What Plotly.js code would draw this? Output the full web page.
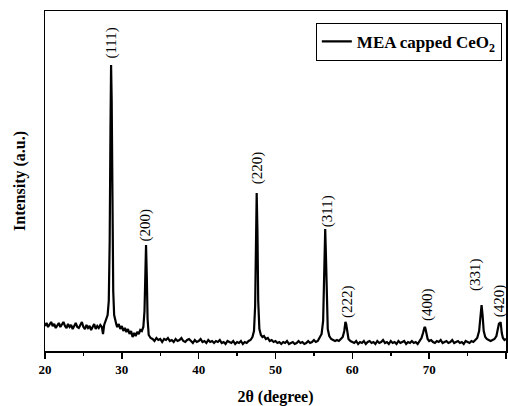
<!DOCTYPE html>
<html>
<head>
<meta charset="utf-8">
<script src="https://cdn.plot.ly/plotly-3.0.1.min.js"></script>
<style>html,body{margin:0;padding:0;background:#fff;}#chart{width:508px;height:406px;}</style>
</head>
<body>
<div id="chart"></div>
<script>
// 2theta (degree) positions of the digitised pattern
const twoTheta = [
  20.0,20.2,20.4,20.6,20.8,21.0,21.2,21.4,21.6,21.8,22.0,22.2,22.4,22.6,22.8,23.0,23.2,23.4,23.6,23.8,
  24.0,24.2,24.4,24.6,24.8,25.0,25.2,25.4,25.6,25.8,26.0,26.2,26.4,26.6,26.8,27.0,27.2,27.4,
  27.55,27.7,27.85,28.0,28.15,28.3,28.42,28.52,28.6,28.68,28.78,28.88,29.0,29.15,29.3,
  29.4,29.6,29.8,30.0,30.2,30.4,30.6,30.8,31.0,31.2,31.4,31.6,31.8,32.0,32.2,32.4,32.6,
  32.8,32.95,33.05,33.15,33.25,33.35,33.5,
  33.75,34.0,34.25,34.5,34.75,35.0,35.25,35.5,35.75,36.0,36.25,36.5,36.75,37.0,37.25,37.5,37.75,
  38.0,38.25,38.5,38.75,39.0,39.25,39.5,39.75,40.0,40.25,40.5,40.75,41.0,41.25,41.5,41.75,
  42.0,42.25,42.5,42.75,43.0,43.25,43.5,43.75,44.0,44.25,44.5,44.75,45.0,45.25,45.5,45.75,
  46.0,46.25,46.5,46.75,
  47.0,47.2,47.35,47.45,47.55,47.65,47.75,47.9,48.1,48.3,48.5,48.75,49.0,49.25,49.5,49.75,
  50.0,50.25,50.5,50.75,51.0,51.25,51.5,51.75,52.0,52.25,52.5,52.75,53.0,53.25,53.5,53.75,
  54.0,54.25,54.5,54.75,55.0,55.25,55.5,55.75,
  56.0,56.2,56.3,56.4,56.47,56.55,56.65,56.8,57.0,57.25,57.5,57.75,58.0,58.25,58.5,58.75,
  58.95,59.1,59.2,59.35,59.5,59.75,
  60.0,60.25,60.5,60.75,61.0,61.25,61.5,61.75,62.0,62.25,62.5,62.75,63.0,63.25,63.5,63.75,
  64.0,64.25,64.5,64.75,65.0,65.25,65.5,65.75,66.0,66.25,66.5,66.75,67.0,67.25,67.5,67.75,
  68.0,68.25,68.5,68.75,69.0,69.2,69.4,69.5,69.65,69.8,
  70.0,70.25,70.5,70.75,71.0,71.25,71.5,71.75,72.0,72.25,72.5,72.75,73.0,73.25,73.5,73.75,
  74.0,74.25,74.5,74.75,75.0,75.25,75.5,75.75,76.0,76.25,76.5,76.7,76.82,76.95,77.1,77.3,
  77.5,77.75,78.0,78.25,78.5,78.75,78.95,79.1,79.2,79.3,79.45,79.6,79.8,80.0
];
// intensity (a.u.)
const intensity = [
  25,28,24,27,29,25,27,23,26,28,24,26,29,25,23,27,24,26,22,25,
  28,24,23,26,29,24,22,26,23,25,21,24,27,22,25,23,26,24,
  17,26,29,31,36,50,110,220,286,250,140,60,36,29,26,
  24,27,22,25,20,23,19,22,17,20,14,18,15,19,17,21,20,
  24,40,85,106,75,32,16,
  13,12,10,13,11,12,9,12,11,13,10,11,9,12,10,11,13,
  10,9,11,12,10,8,11,9,10,12,9,10,8,11,9,10,
  8,10,9,11,8,9,7,10,9,8,10,7,9,8,10,7,
  9,8,10,11,
  14,20,45,120,158,120,50,22,16,14,15,12,13,10,11,9,
  10,8,9,7,9,8,10,7,8,9,7,8,10,8,9,7,
  8,10,8,9,11,9,10,13,
  17,30,60,112,122,100,50,22,15,12,11,10,11,10,12,14,
  20,29,27,16,12,10,
  9,8,10,7,9,8,10,7,9,10,8,9,7,10,8,9,
  11,8,9,7,10,8,9,7,10,8,9,10,7,9,8,10,
  8,9,7,10,13,18,24,23,16,12,
  10,11,9,8,10,9,11,8,9,10,8,9,11,8,9,10,
  8,9,7,10,9,8,10,9,11,13,20,38,46,36,20,14,
  12,11,10,11,12,15,24,28,27,29,18,13,11,12
];
// reflections (Miller indices), their 2theta and peak heights
const peakHkl = ['(111)','(200)','(220)','(311)','(222)','(400)','(331)','(420)'];
const peakTheta = [28.6, 33.15, 47.55, 56.47, 59.1, 69.4, 76.82, 79.2];
const peakTop = [286, 106, 158, 122, 29, 24, 46, 28];
const seriesName = 'MEA capped CeO<sub>2</sub>';
const xTitle = '2θ (degree)';
const yTitle = 'Intensity (a.u.)';

const serif = 'Liberation Serif, Times New Roman, serif';
// per-label pixel nudges [dx, dy]
const nudge = [[0,5],[-1,2],[1,8],[2,1],[2,3],[3,5],[-6,13],[0,5]];

const annotations = peakHkl.map((t, i) => ({
  text: t, x: peakTheta[i], y: peakTop[i], xref: 'x', yref: 'y',
  xshift: nudge[i][0], yshift: nudge[i][1],
  textangle: -90, xanchor: 'center', yanchor: 'bottom', showarrow: false,
  borderpad: 0,
  font: {family: serif, size: 15, color: '#000'}
}));

const data = [{
  x: twoTheta, y: intensity, type: 'scatter', mode: 'lines',
  name: seriesName, line: {color: '#000', width: 2.2},
  showlegend: true
}];

const layout = {
  width: 508, height: 406,
  margin: {l: 45, r: 2, t: 11, b: 55},
  paper_bgcolor: '#fff', plot_bgcolor: '#fff',
  font: {family: serif, color: '#000'},
  showlegend: true,
  legend: {
    x: 0.991, xanchor: 'right', y: 0.965, yanchor: 'top',
    bordercolor: '#000', borderwidth: 1, bgcolor: '#fff',
    font: {family: serif, size: 17, weight: 'bold', color: '#000'}
  },
  xaxis: {
    range: [20, 80], dtick: 10, tick0: 20,
    ticks: 'outside', ticklen: 6, tickwidth: 1.5, tickcolor: '#000',
    minor: {dtick: 5, ticks: 'outside', ticklen: 3, tickwidth: 1.5, tickcolor: '#000'},
    showline: true, linewidth: 1.5, linecolor: '#000', mirror: true,
    showgrid: false, zeroline: false,
    tickfont: {family: serif, size: 13, weight: 'bold', color: '#000'},
    title: {text: xTitle, standoff: 14, font: {family: serif, size: 16, weight: 'bold', color: '#000'}},
    automargin: false
  },
  yaxis: {
    range: [0, 340],
    showticklabels: false, ticks: '',
    showline: true, linewidth: 1.5, linecolor: '#000', mirror: true,
    showgrid: false, zeroline: false,
    title: {text: yTitle, standoff: 14, font: {family: serif, size: 16, weight: 'bold', color: '#000'}},
    automargin: false
  },
  annotations: annotations
};

Plotly.newPlot('chart', data, layout, {displayModeBar: false, staticPlot: true});
</script>
</body>
</html>
